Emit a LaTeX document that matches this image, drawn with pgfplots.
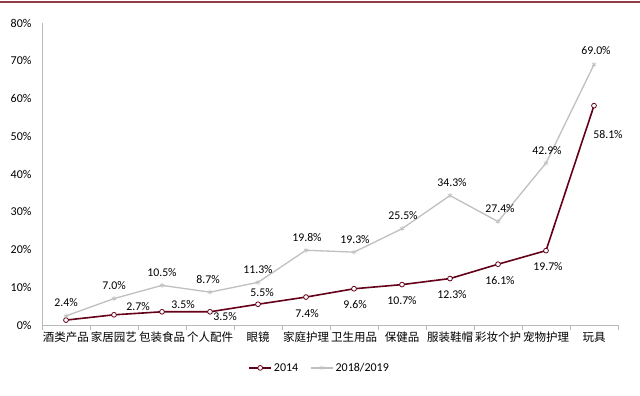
\documentclass[border=0pt]{standalone}
\usepackage{pgfplots}
\pgfplotsset{compat=1.18}
\usepackage{fontspec}
\setmainfont{Carlito}
\newfontfamily\cjk{Noto Sans CJK SC}
\definecolor{dred}{RGB}{100,0,25}
\definecolor{lgray}{RGB}{192,192,192}
\definecolor{axgray}{RGB}{185,185,185}
\definecolor{topred}{RGB}{145,60,70}
\begin{document}
\begin{tikzpicture}
\useasboundingbox (0,0) rectangle (640pt,396pt);
\fill[white] (0,0) rectangle (640pt,396pt);
\draw[topred, line width=1.5pt] (0,394pt) -- (640pt,394pt);
\begin{axis}[
  at={(42pt,71pt)}, anchor=south west,
  scale only axis, width=576pt, height=302pt,
  xmin=-0.5, xmax=11.5, ymin=0, ymax=80,
  axis lines*=left,
  axis line style={axgray, line width=0.8pt},
  major tick length=0pt,
  minor tick length=5pt,
  tick align=outside,
  xtick={0,...,11},
  xticklabels={酒类产品,家居园艺,包装食品,个人配件,眼镜,家庭护理,卫生用品,保健品,服装鞋帽,彩妆个护,宠物护理,玩具},
  xticklabel style={font=\cjk\fontsize{11.5}{12}\selectfont, yshift=-7pt, inner sep=0pt},
  minor xtick={-0.5,0.5,1.5,2.5,3.5,4.5,5.5,6.5,7.5,8.5,9.5,10.5,11.5},
  minor x tick style={axgray, line width=0.8pt},
  major tick style={draw=none},
  ytick={0,10,...,80},
  yticklabel={\pgfmathprintnumber{\tick}\%},
  yticklabel style={font=\fontsize{12}{13}\selectfont, xshift=-7pt},
  /pgf/number format/assume math mode=true,
  legend style={at={(0.482,-0.142)}, anchor=center, draw=none, fill=none,
    legend columns=2, font=\fontsize{12}{13}\selectfont,
    /tikz/every even column/.append style={column sep=10pt}},
  legend image code/.code={
    \draw[mark repeat=2,mark phase=2,#1] plot coordinates {(0pt,0pt) (11pt,0pt) (22pt,0pt)};},
  legend cell align=left,
  clip=false,
]
\addplot[dred, line width=1.6pt, mark=*, mark size=2.4pt,
  mark options={fill=white, draw=dred, line width=0.8pt, solid},
  nodes near coords, point meta=explicit symbolic,
  visualization depends on={value \thisrow{dx} \as \dx},
  visualization depends on={value \thisrow{dy} \as \dy},
  every node near coord/.append style={font=\fontsize{11.8}{12}\selectfont, anchor=center, inner sep=0pt, xshift=\dx pt, yshift=\dy pt, text=black}]
  table[x=x, y=y, meta=lbl] {
x y dx dy lbl
0 1.3 0 0 {}
1 2.7 24 8 2.7\%
2 3.5 21 7 3.5\%
3 3.5 15 -5 3.5\%
4 5.5 4 12 5.5\%
5 7.4 1 -16 7.4\%
6 9.6 1 -16 9.6\%
7 10.7 0 -16 10.7\%
8 12.3 2 -16 12.3\%
9 16.1 2 -16 16.1\%
10 19.7 2 -16 19.7\%
11 58.1 14 -29 58.1\%
};
\addlegendentry{2014}
\addplot[lgray, line width=1.3pt, mark=asterisk, mark size=2.5pt,
  mark options={lgray, line width=0.6pt, solid},
  nodes near coords, point meta=explicit symbolic,
  visualization depends on={value \thisrow{dx} \as \dx},
  visualization depends on={value \thisrow{dy} \as \dy},
  every node near coord/.append style={font=\fontsize{11.8}{12}\selectfont, anchor=center, inner sep=0pt, xshift=\dx pt, yshift=\dy pt, text=black}]
  table[x=x, y=y, meta=lbl] {
x y dx dy lbl
0 2.4 0 13 2.4\%
1 7.0 0 13 7.0\%
2 10.5 0 13 10.5\%
3 8.7 -2 13 8.7\%
4 11.3 0 13 11.3\%
5 19.8 1 13 19.8\%
6 19.3 1 13 19.3\%
7 25.5 1 13 25.5\%
8 34.3 2 13 34.3\%
9 27.4 2 13 27.4\%
10 42.9 1 13 42.9\%
11 69.0 2 14 69.0\%
};
\addlegendentry{2018/2019}
\end{axis}
\end{tikzpicture}
\end{document}
